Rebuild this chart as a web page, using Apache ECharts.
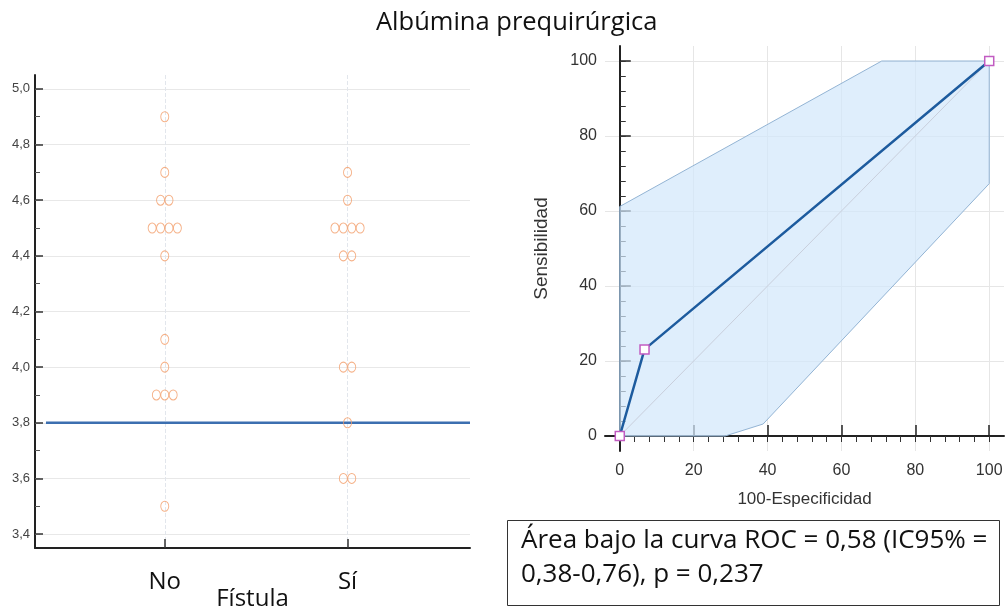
<!DOCTYPE html>
<html><head><meta charset="utf-8">
<script src="https://cdn.jsdelivr.net/npm/echarts@6/dist/echarts.min.js"></script>
<style>html,body{margin:0;padding:0;background:#fff}#c{width:1006px;height:610px}</style>
</head><body><div id="c"></div>
<script>
// ---- data ----
const groups = ['No', 'Sí'];
const albuminaNo = [4.9, 4.7, 4.6, 4.6, 4.5, 4.5, 4.5, 4.5, 4.4, 4.1, 4.0, 3.9, 3.9, 3.9, 3.5];
const albuminaSi = [4.7, 4.6, 4.5, 4.5, 4.5, 4.5, 4.4, 4.4, 4.0, 4.0, 3.8, 3.6, 3.6];
const cutoff = 3.8;
const leftMajorTicks = [3.4, 3.6, 3.8, 4.0, 4.2, 4.4, 4.6, 4.8, 5.0];
const leftMinorTicks = [3.4, 3.5, 3.6, 3.7, 3.8, 3.9, 4.0, 4.1, 4.2, 4.3, 4.4, 4.5, 4.6, 4.7, 4.8, 4.9, 5.0];
const rocX = [0, 6.7, 100];
const rocY = [0, 23.1, 100];
const ciUpperX = [0, 70.9, 100];
const ciUpperY = [61.2, 100, 100];
const ciLowerX = [0, 28.5, 38.8, 100];
const ciLowerY = [0, 0, 3.2, 67.3];
const diagX = [0, 100];
const diagY = [0, 100];
const rocTicks = [0, 20, 40, 60, 80, 100];
const rocMinorTicks = [0, 4, 8, 12, 16, 20, 24, 28, 32, 36, 40, 44, 48, 52, 56, 60, 64, 68, 72, 76, 80, 84, 88, 92, 96, 100];
const titleText = 'Albúmina prequirúrgica';
const aucText = 'Área bajo la curva ROC = 0,58 (IC95% =\n0,38-0,76), p = 0,237';

// ---- build dot plot positions (side-by-side for equal values) ----
const DOT_STEP = 0.046;
function dotPoints(vals, gi) {
  const counts = {};
  vals.forEach(v => { counts[v] = (counts[v] || 0) + 1; });
  const seen = {};
  return vals.map(v => {
    const n = counts[v];
    const k = seen[v] = (seen[v] === undefined ? 0 : seen[v] + 1);
    return [gi + 1 + (k - (n - 1) / 2) * DOT_STEP, v];
  });
}
const dots = dotPoints(albuminaNo, 0).concat(dotPoints(albuminaSi, 1));

const bandPoints = ciUpperX.map((x, i) => [x, ciUpperY[i]])
  .concat(ciLowerX.map((x, i) => [x, ciLowerY[i]]).reverse());

const chart = echarts.init(document.getElementById('c'), null, {renderer: 'canvas'});
const axisDark = {show: true, lineStyle: {color: '#222', width: 2}};
const comma = v => v.toFixed(1).replace('.', ',');
const CFONT = 'Open Sans';
const AFONT = 'Liberation Sans';

chart.setOption({
  animation: false,
  backgroundColor: '#fff',
  title: [
    {text: titleText, left: 371, top: 5,
     textStyle: {fontFamily: CFONT, fontSize: 25.5, fontWeight: 'normal', color: '#111'}},
    {text: aucText, left: 507, top: 520, borderColor: '#333', borderWidth: 1,
     padding: [4, 6, 14, 14],
     textStyle: {fontFamily: CFONT, fontSize: 26, lineHeight: 34, fontWeight: 'normal', color: '#111', width: 473}}
  ],
  grid: [
    {left: 35, top: 75, width: 435, height: 473, outerBoundsMode: 'none', containLabel: false},
    {left: 605, top: 46, right: 2, bottom: 159, outerBoundsMode: 'none', containLabel: false}
  ],
  xAxis: [
    {gridIndex: 0, type: 'value', min: 0.29, max: 2.67,
     axisLine: axisDark,
     axisTick: {customValues: [1, 2], inside: true, length: 9, lineStyle: {color: '#333', width: 1.5}},
     axisLabel: {customValues: [1, 2], formatter: v => groups[Math.round(v) - 1], margin: 22,
                 fontFamily: CFONT, fontSize: 24, color: '#111'},
     splitLine: {show: true, lineStyle: {color: '#e2e6ec', type: 'dashed'}},
     name: 'Fístula', nameLocation: 'middle', nameGap: 39, nameMoveOverlap: false,
     nameTextStyle: {fontFamily: CFONT, fontSize: 24, color: '#111'}},
    {gridIndex: 1, type: 'value', min: -4, max: 104,
     axisLine: axisDark,
     axisTick: {customValues: rocTicks, inside: true, length: 11, lineStyle: {color: '#222', width: 1.5}},
     axisLabel: {customValues: rocTicks, margin: 12, fontFamily: AFONT, fontSize: 16, color: '#333'},
     splitLine: {show: true, lineStyle: {color: '#e6e6e6'}},
     name: '100-Especificidad', nameLocation: 'middle', nameGap: 40,
     nameTextStyle: {fontFamily: AFONT, fontSize: 17, color: '#333'}},
    {gridIndex: 1, type: 'value', min: -4, max: 104,
     axisLine: {show: false},
     axisTick: {customValues: rocMinorTicks, inside: true, length: 6, lineStyle: {color: '#333', width: 1}},
     axisLabel: {show: false}, splitLine: {show: false}}
  ],
  yAxis: [
    {gridIndex: 0, type: 'value', position: 'left', min: 3.35, max: 5.05,
     axisLine: axisDark,
     axisTick: {customValues: leftMajorTicks, inside: true, length: 8, lineStyle: {color: '#333', width: 1.5}},
     axisLabel: {customValues: leftMajorTicks, formatter: comma, margin: 5,
                 fontFamily: AFONT, fontSize: 13, color: '#444'},
     splitLine: {show: true, lineStyle: {color: '#e8e8e8'}}},
    {gridIndex: 0, type: 'value', position: 'left', offset: 0, min: 3.35, max: 5.05,
     axisLine: {show: false},
     axisTick: {customValues: leftMinorTicks, inside: true, length: 5, lineStyle: {color: '#555', width: 1}},
     axisLabel: {show: false}, splitLine: {show: false}},
    {gridIndex: 1, type: 'value', position: 'left', min: -4, max: 104,
     axisLine: axisDark,
     axisTick: {customValues: rocTicks, inside: true, length: 11, lineStyle: {color: '#222', width: 1.5}},
     axisLabel: {customValues: rocTicks, margin: 8, fontFamily: AFONT, fontSize: 16, color: '#333'},
     splitLine: {show: true, lineStyle: {color: '#e6e6e6'}},
     name: 'Sensibilidad', nameLocation: 'middle', nameGap: 54,
     nameTextStyle: {fontFamily: AFONT, fontSize: 19, color: '#333'}},
    {gridIndex: 1, type: 'value', position: 'left', offset: 0, min: -4, max: 104,
     axisLine: {show: false},
     axisTick: {customValues: rocMinorTicks, inside: true, length: 6, lineStyle: {color: '#333', width: 1}},
     axisLabel: {show: false}, splitLine: {show: false}}
  ],
  series: [
    {type: 'line', xAxisIndex: 0, yAxisIndex: 0, data: [[0.35, cutoff], [2.67, cutoff]],
     symbol: 'none', lineStyle: {color: '#3c6fb0', width: 2.5}, z: 3, silent: true},
    {type: 'scatter', xAxisIndex: 0, yAxisIndex: 0, data: dots,
     symbol: 'circle', symbolSize: [8, 10],
     itemStyle: {color: 'rgba(0,0,0,0)', borderColor: '#F29C68', borderWidth: 1}, z: 4},
    {type: 'custom', xAxisIndex: 1, yAxisIndex: 2, data: bandPoints, silent: true, z: 1,
     renderItem: (params, api) => {
       if (params.dataIndex !== 0) return null;
       return {type: 'polygon', shape: {points: bandPoints.map(p => api.coord(p))},
               style: {fill: 'rgba(210,231,251,0.7)', stroke: '#93b4d4', lineWidth: 1}};
     }},
    {type: 'line', xAxisIndex: 1, yAxisIndex: 2, data: diagX.map((x, i) => [x, diagY[i]]),
     symbol: 'none', lineStyle: {color: '#c9cfdc', width: 1}, z: 2, silent: true},
    {type: 'line', xAxisIndex: 1, yAxisIndex: 2, data: rocX.map((x, i) => [x, rocY[i]]),
     symbol: 'rect', symbolSize: 9, showAllSymbol: true,
     lineStyle: {color: '#1d5b9e', width: 2.5},
     itemStyle: {color: '#fff', borderColor: '#c25cc2', borderWidth: 1.5}, z: 5}
  ]
});
</script></body></html>
